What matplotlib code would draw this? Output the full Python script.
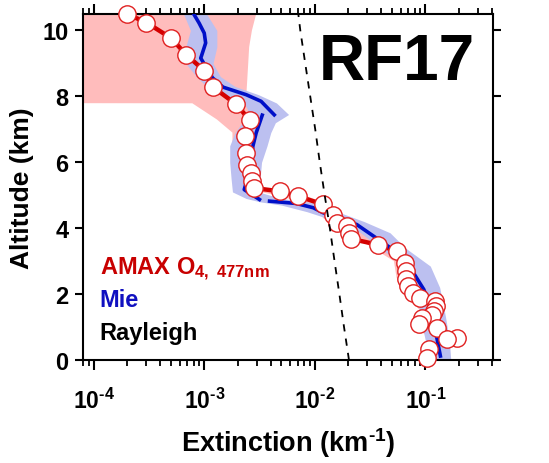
import numpy as np
import matplotlib
matplotlib.use('Agg')
import matplotlib.pyplot as plt
from matplotlib.ticker import LogLocator, FixedLocator, FixedFormatter, NullFormatter

plt.rcParams['font.family'] = ['Liberation Sans', 'DejaVu Sans']
plt.rcParams['font.weight'] = 'bold'
plt.rcParams['mathtext.fontset'] = 'custom'
plt.rcParams['mathtext.rm'] = 'Liberation Sans:bold'
plt.rcParams['mathtext.bf'] = 'Liberation Sans:bold'
plt.rcParams['mathtext.it'] = 'Liberation Sans:bold'

# AMAX O4 477 nm retrieval (km, km^-1)
amax_alt = [10.50, 10.24, 9.77, 9.26, 8.78, 8.28, 7.77, 7.27, 6.79, 6.28, 5.91, 5.68,
            5.42, 5.22, 5.12, 4.97, 4.72, 4.41, 4.16, 4.06, 3.86, 3.68, 3.50, 3.30,
            2.95, 2.70, 2.45, 2.24, 2.04, 1.89, 1.79, 1.64, 1.48, 1.38, 1.28, 1.08,
            0.98, 0.68, 0.63, 0.32, 0.07]
amax_ext = [2.0e-4, 3.0e-4, 5.0e-4, 6.9e-4, 1.0e-3, 1.2e-3, 1.93e-3, 2.6e-3, 2.35e-3,
            2.38e-3, 2.45e-3, 2.63e-3, 2.7e-3, 2.8e-3, 4.8e-3, 7.1e-3, 0.0119, 0.0146,
            0.0158, 0.0195, 0.0205, 0.0211, 0.037, 0.0553, 0.066, 0.067, 0.067, 0.0705,
            0.078, 0.090, 0.123, 0.126, 0.120, 0.115, 0.093, 0.087, 0.128, 0.194, 0.157,
            0.107, 0.104]

# AMAX uncertainty band
amax_band_alt = [10.5, 10.0, 9.5, 9.0, 8.5, 8.0, 7.80, 7.79, 7.3, 6.9, 6.4, 6.0, 5.5,
                 5.2, 5.0, 4.7, 4.3, 4.0, 3.5, 3.0, 2.5, 2.0, 1.5, 1.0, 0.5, 0.0]
amax_band_lo = [1e-6, 1e-6, 1e-6, 1e-6, 1e-6, 1e-6, 1e-6, 7.8e-4, 1.3e-3, 1.8e-3, 1.8e-3,
                1.9e-3, 2.1e-3, 2.3e-3, 4.5e-3, 9.5e-3, 0.012, 0.016, 0.03, 0.052, 0.055,
                0.065, 0.09, 0.08, 0.13, 0.09]
amax_band_hi = [2.95e-3, 2.7e-3, 2.55e-3, 2.5e-3, 2.45e-3, 2.4e-3, 2.8e-3, 2.8e-3, 3.3e-3,
                3.4e-3, 3.3e-3, 3.2e-3, 3.2e-3, 3.3e-3, 8.0e-3, 0.014, 0.018, 0.022, 0.045,
                0.078, 0.08, 0.092, 0.14, 0.11, 0.18, 0.12]

# Mie calculation
mie_alt = [10.48, 10.22, 9.92, 9.62, 9.16, 8.91, 8.56, 8.28, 8.05, 7.85, 7.44, np.nan,
           7.43, 6.89, 6.48, 6.08, 5.60, 5.17, 4.87, np.nan, 4.82, 4.75, 4.62, 4.47,
           4.11, 3.76, 3.41, 2.65, 2.14, 1.74, 1.20, 0.63, 0.12]
mie_ext = [8.1e-4, 9.0e-4, 1.0e-3, 1.03e-3, 9.3e-4, 1.03e-3, 1.19e-3, 1.48e-3, 2.4e-3,
           3.27e-3, 4.3e-3, np.nan, 3.35e-3, 2.95e-3, 2.75e-3, 2.7e-3, 2.5e-3, 2.3e-3,
           3.16e-3, np.nan, 3.9e-3, 6.8e-3, 9.7e-3, 0.0119, 0.024, 0.034, 0.048, 0.078,
           0.097, 0.107, 0.118, 0.128, 0.137]

mie_band_alt = [10.5, 10.0, 9.5, 9.0, 8.6, 8.3, 8.05, 7.8, 7.45, 7.2, 6.9, 6.5, 6.0,
                5.5, 5.1, 4.9, 4.8, 4.7, 4.5, 4.2, 3.86, 3.4, 2.85, 2.2, 1.33, 0.6, 0.0]
mie_band_lo = [6.5e-4, 7.5e-4, 6.8e-4, 6.8e-4, 8.5e-4, 1.05e-3, 1.6e-3, 2.3e-3, 2.6e-3,
               2.2e-3, 1.9e-3, 1.7e-3, 1.7e-3, 1.75e-3, 1.8e-3, 2.4e-3, 3.2e-3, 5.0e-3,
               8.5e-3, 0.016, 0.026, 0.039, 0.063, 0.082, 0.090, 0.10, 0.105]
mie_band_hi = [1.05e-3, 1.3e-3, 1.3e-3, 1.2e-3, 1.4e-3, 1.9e-3, 3.1e-3, 4.5e-3, 5.8e-3,
               4.4e-3, 4.0e-3, 3.7e-3, 3.3e-3, 3.2e-3, 3.1e-3, 5.0e-3, 8.5e-3, 0.012,
               0.016, 0.028, 0.048, 0.066, 0.111, 0.135, 0.152, 0.165, 0.17]

# Rayleigh
ray_alt = [0, 1, 2, 3, 4, 5, 6, 7, 8, 9, 10, 10.5]
ray_ext = [0.0204, 0.0184, 0.0167, 0.0151, 0.0137, 0.0123, 0.0111, 0.0101, 0.0091,
           0.0082, 0.0074, 0.0071]

xticks = [1e-4, 1e-3, 1e-2, 1e-1]
xticklabels = ['$10^{\\text{-}4}$', '$10^{\\text{-}3}$', '$10^{\\text{-}2}$', '$10^{\\text{-}1}$']
yticks = [0, 2, 4, 6, 8, 10]

RED = '#d40000'
BLUE = '#0010c8'

fig = plt.figure(figsize=(5.49, 4.64), dpi=100)
ax = fig.add_axes([0.1512, 0.222, 0.7468, 0.7457])

ax.fill_betweenx(amax_band_alt, amax_band_lo, amax_band_hi, color='#ffbcbc', lw=0, zorder=1)
ax.fill_betweenx(mie_band_alt, mie_band_lo, mie_band_hi, color='#bcc0f0', lw=0, zorder=2)
ax.plot(amax_ext, amax_alt, color=RED, lw=3.2, zorder=3)
ax.plot(mie_ext, mie_alt, color=BLUE, lw=2.6, zorder=4)
ax.plot(amax_ext, amax_alt, ls='none', marker='o', ms=12.5, mfc='white', mec='#e02020',
        mew=1.0, zorder=5, clip_on=False)
ax.plot(ray_ext, ray_alt, color='black', lw=1.3, ls=(0, (4, 4)), zorder=6)

ax.set_xscale('log')
ax.set_xlim(8e-5, 0.41)
ax.set_ylim(0, 10.5)

ax.xaxis.set_major_locator(FixedLocator(xticks))
ax.xaxis.set_major_formatter(FixedFormatter(xticklabels))
ax.xaxis.set_minor_locator(LogLocator(base=10, subs=np.arange(2, 10)))
ax.xaxis.set_minor_formatter(NullFormatter())
ax.yaxis.set_major_locator(FixedLocator(yticks))

for s in ax.spines.values():
    s.set_linewidth(1.5)
ax.tick_params(which='major', direction='out', width=1.5, top=True, right=True)
ax.tick_params(which='minor', direction='out', length=4, width=1.3, top=True, right=True)
ax.tick_params(axis='x', which='major', length=7, pad=13, labelsize=16.5)
ax.tick_params(axis='y', which='major', length=5.5, pad=5, labelsize=17)

ax.set_xlabel('Extinction (km$^{\\text{-}1}$)', fontsize=19.5, fontweight='bold', labelpad=9)
ax.set_ylabel('Altitude (km)', fontsize=19, fontweight='bold', labelpad=6)

ax.text(0.766, 0.861, 'RF17', transform=ax.transAxes, fontsize=46, fontweight='bold',
        ha='center', va='center')
ax.text(0.041, 0.249, 'AMAX O$_{4,\\ 477nm}$', transform=ax.transAxes, color='#c80000',
        fontsize=17, fontweight='bold', va='baseline')
ax.text(0.041, 0.157, 'Mie', transform=ax.transAxes, color='#1010c0',
        fontsize=17, fontweight='bold', va='baseline')
ax.text(0.041, 0.061, 'Rayleigh', transform=ax.transAxes, color='black',
        fontsize=17, fontweight='bold', va='baseline')

fig.savefig('out.png', dpi=100)
